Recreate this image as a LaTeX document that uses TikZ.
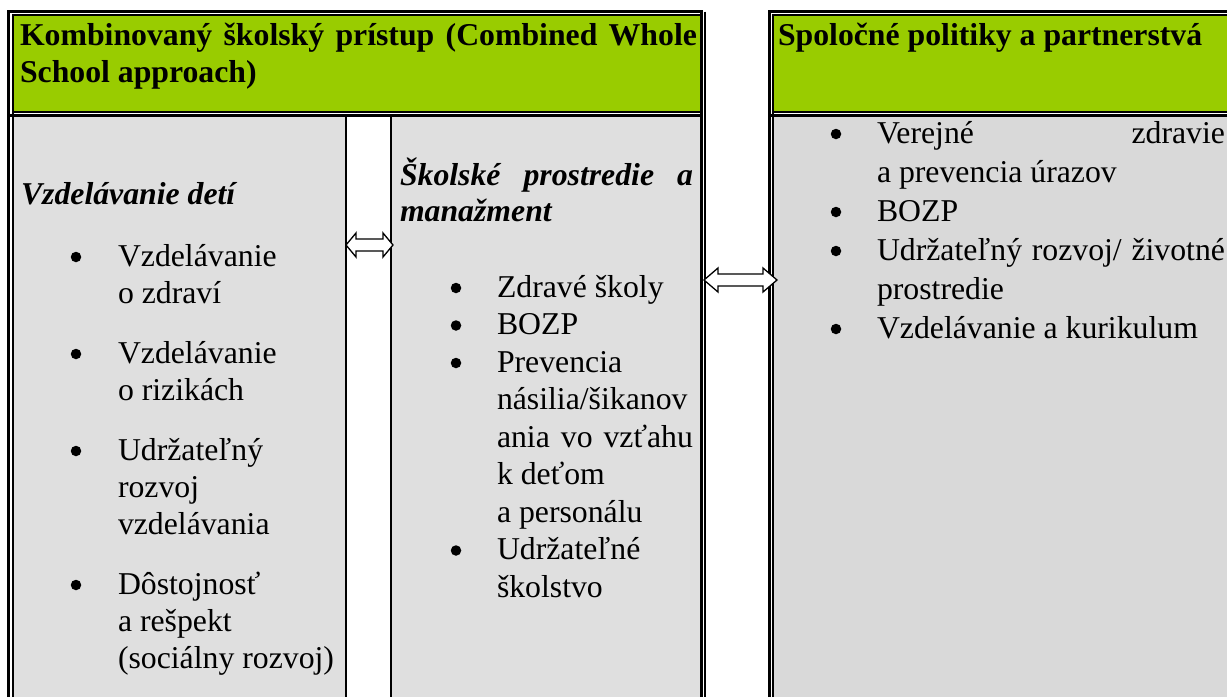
\documentclass[tikz,border=0pt]{standalone}
\usepackage{fontspec}
\setmainfont{Liberation Serif}
\definecolor{hdrgreen}{HTML}{99CC00}
\definecolor{bodyL}{HTML}{DFDFDF}
\definecolor{bodyR}{HTML}{D9D9D9}
\tikzset{
  txtr/.style={anchor=base west, inner sep=0pt, outer sep=0pt, font=\fontsize{31.75}{37}\selectfont},
  txtb/.style={txtr, font=\fontsize{31.75}{37}\selectfont\bfseries},
  txtbi/.style={txtr, font=\fontsize{31.75}{37}\selectfont\bfseries\itshape},
  bulnode/.style={circle, fill=black, inner sep=0pt, outer sep=0pt, minimum size=10.5pt},
  thickb/.style={line width=3pt, line cap=butt, line join=miter},
  thinb/.style={line width=1.5pt, line cap=butt, line join=miter},
  colline/.style={line width=2pt},
  dblarrow/.style={draw=black, fill=white, line width=1.3pt, line join=miter},
}
\begin{document}
\begin{tikzpicture}[x=1pt, y=-1pt]
\useasboundingbox (0,0) rectangle (1227,697);
% fills
\fill[white] (0,0) rectangle (1227,697);
\fill[hdrgreen] (13,15) rectangle (700,112);
\fill[hdrgreen] (773,15) rectangle (1227,112);
\fill[bodyL] (13,117) rectangle (346,697);
\fill[bodyL] (391,117) rectangle (700,697);
\fill[bodyR] (773,117) rectangle (1227,697);
% left panel borders
\draw[thickb] (8.5,697) -- (8.5,11.5) -- (701.5,11.5) -- (701.5,697);
\draw[thinb] (12.75,697) -- (12.75,14.75) -- (700,14.75);
\draw[thinb] (705,11.5) -- (705,697);
\draw[thinb] (13,111.75) -- (700,111.75);
\draw[thickb] (10,115.5) -- (700,115.5);
\draw[colline] (346,117) -- (346,697);
\draw[colline] (391,117) -- (391,697);
% right panel borders
\draw[thickb] (769,697) -- (769,11.5) -- (1227,11.5);
\draw[thinb] (772.75,697) -- (772.75,14.75) -- (1227,14.75);
\draw[thinb] (773,111.75) -- (1227,111.75);
\draw[thickb] (770,115.5) -- (1227,115.5);
% double arrows (connectors between panels)
\draw[dblarrow] (346,245) -- (356,233) -- (356,239) -- (383,239) -- (383,233) -- (393,245)
   -- (383,257) -- (383,251) -- (356,251) -- (356,257) -- cycle;
\draw[dblarrow] (704,280) -- (718,268) -- (718,274) -- (763,274) -- (763,268) -- (777,280)
   -- (763,292) -- (763,286) -- (718,286) -- (718,292) -- cycle;
% headers
\node[txtb] (h1a) at (20,45) {\makebox[677pt][s]{Kombinovaný školský prístup (Combined Whole}};
\node[txtb] (h1b) at (20,82) {School approach)};
\node[txtb] (h2) at (778,45) {Spoločné politiky a partnerstvá};
% left column
\node[txtbi] (lh) at (21,204) {Vzdelávanie detí};
\node[bulnode] (lb1) at (76,257) {};
\node[txtr] (l1a) at (118,266) {Vzdelávanie};
\node[txtr] (l1b) at (118,303) {o zdraví};
\node[bulnode] (lb2) at (76,354) {};
\node[txtr] (l2a) at (118,363) {Vzdelávanie};
\node[txtr] (l2b) at (118,400) {o rizikách};
\node[bulnode] (lb3) at (76,451) {};
\node[txtr] (l3a) at (118,460) {Udržateľný};
\node[txtr] (l3b) at (118,497) {rozvoj};
\node[txtr] (l3c) at (118,534) {vzdelávania};
\node[bulnode] (lb4) at (76,585) {};
\node[txtr] (l4a) at (118,594) {Dôstojnosť};
\node[txtr] (l4b) at (118,631) {a rešpekt};
\node[txtr] (l4c) at (118,668) {(sociálny rozvoj)};
% middle column
\node[txtbi] (mh1) at (400,185) {\makebox[293pt][s]{Školské prostredie a}};
\node[txtbi] (mh2) at (400,221) {manažment};
\node[bulnode] (mb1) at (456,288) {};
\node[txtr] (m1) at (497,297) {Zdravé školy};
\node[bulnode] (mb2) at (456,325.5) {};
\node[txtr] (m2) at (497,334.5) {BOZP};
\node[bulnode] (mb3) at (456,363) {};
\node[txtr] (m3a) at (497,372) {Prevencia};
\node[txtr] (m3b) at (497,409.5) {násilia/šikanov};
\node[txtr] (m3c) at (497,447) {\makebox[196pt][s]{ania vo vzťahu}};
\node[txtr] (m3d) at (497,484.5) {k deťom};
\node[txtr] (m3e) at (497,522) {a personálu};
\node[bulnode] (mb4) at (456,550.5) {};
\node[txtr] (m4a) at (497,559.5) {Udržateľné};
\node[txtr] (m4b) at (497,597) {školstvo};
% right column
\node[bulnode] (rb1) at (836,134) {};
\node[txtr] (r1a) at (877,143) {\makebox[348pt][s]{Verejné zdravie}};
\node[txtr] (r1b) at (877,182) {a prevencia úrazov};
\node[bulnode] (rb2) at (836,212) {};
\node[txtr] (r2) at (877,221) {BOZP};
\node[bulnode] (rb3) at (836,251) {};
\node[txtr] (r3a) at (877,260) {\makebox[348pt][s]{Udržateľný rozvoj/ životné}};
\node[txtr] (r3b) at (877,299) {prostredie};
\node[bulnode] (rb4) at (836,329) {};
\node[txtr] (r4) at (877,338) {Vzdelávanie a kurikulum};
\end{tikzpicture}
\end{document}
